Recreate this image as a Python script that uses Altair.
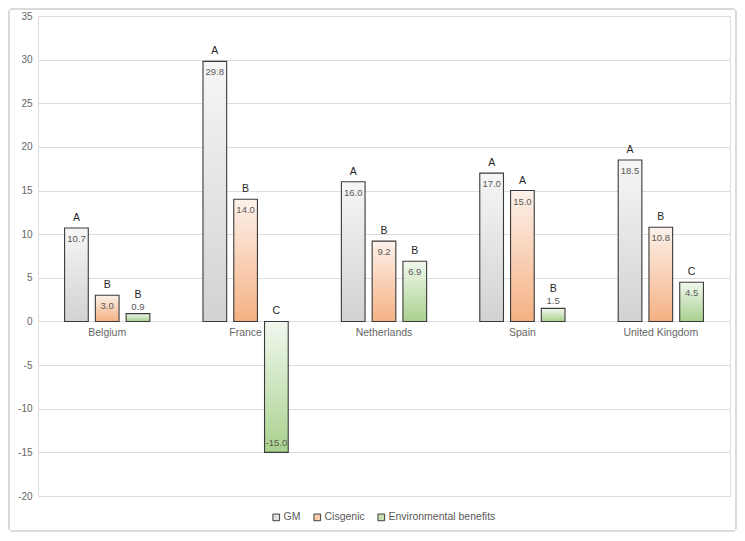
import altair as alt
import pandas as pd

countries = ["Belgium", "France", "Netherlands", "Spain", "United Kingdom"]
series = ["GM", "Cisgenic", "Environmental benefits"]
gm = [10.7, 29.8, 16.0, 17.0, 18.5]
cisgenic = [3.0, 14.0, 9.2, 15.0, 10.8]
env = [0.9, -15.0, 6.9, 1.5, 4.5]
letters_gm = ["A", "A", "A", "A", "A"]
letters_cis = ["B", "B", "B", "A", "B"]
letters_env = ["B", "C", "B", "B", "C"]

rows = []
for vals, lets, s in [(gm, letters_gm, series[0]), (cisgenic, letters_cis, series[1]), (env, letters_env, series[2])]:
    for c, v, l in zip(countries, vals, lets):
        rows.append({"country": c, "series": s, "value": v, "letter": l,
                     "label": f"{v:.1f}"})
df = pd.DataFrame(rows)

W, H = 692, 480

grads = {
    "GM": ("#f6f6f6", "#d2d2d2"),
    "Cisgenic": ("#fdf1ea", "#f4b183"),
    "Environmental benefits": ("#f1f8ee", "#a9d18e"),
}

x_enc = alt.X("country:N", sort=countries, axis=None,
              scale=alt.Scale(paddingInner=0.333, paddingOuter=0.1665))
xo_enc = alt.XOffset("series:N", sort=series,
                     scale=alt.Scale(paddingInner=0.23, paddingOuter=0.115))
y_scale = alt.Scale(domain=[-20, 35], nice=False, zero=False)

base = alt.Chart(df)

# hidden layer supplying the legend
legend_layer = base.mark_square(size=1, opacity=1, strokeWidth=0).encode(
    x=x_enc, xOffset=xo_enc,
    y=alt.Y("value:Q", scale=y_scale, title=None,
            axis=alt.Axis(values=list(range(-20, 36, 5)), grid=True, gridColor="#dedede",
                          domain=False, ticks=False, labelColor="#666666",
                          labelFontSize=10, labelPadding=6, labelFont="Liberation Sans",
                          labelExpr="datum.value < 0 ? '-' + abs(datum.value) : '' + datum.value")),
    y2=alt.datum(0),
    color=alt.Color("series:N", sort=series,
                    scale=alt.Scale(domain=series, range=["#e2e2e2", "#f8cbad", "#c5e0b4"]),
                    legend=alt.Legend(title=None, orient="none", direction="horizontal",
                                      legendX=W / 2 - 113, legendY=H + 16,
                                      symbolType="square", symbolSize=45,
                                      symbolStrokeColor="#404040", symbolStrokeWidth=1,
                                      labelColor="#595959", labelFontSize=10.5,
                                      labelFont="Liberation Sans", columnPadding=10,
                                      labelOffset=2)),
)

bar_layers = []
for s in series:
    top, bot = grads[s]
    g = alt.Gradient(gradient="linear",
                     stops=[alt.GradientStop(color=top, offset=0),
                            alt.GradientStop(color=bot, offset=1)],
                     x1=0, x2=0, y1=0, y2=1)
    bar_layers.append(
        base.transform_filter(alt.datum.series == s).mark_bar(
            fill=g, stroke="#3a3a3a", strokeWidth=1.1
        ).encode(x=x_enc, xOffset=xo_enc,
                 y=alt.Y("value:Q", scale=y_scale), y2=alt.datum(0))
    )

txt = dict(font="Liberation Sans")

val_pos = base.transform_filter("datum.value >= 2").mark_text(
    dy=11, fontSize=9.5, color="#595959", baseline="middle", **txt
).encode(x=x_enc, xOffset=xo_enc, y=alt.Y("value:Q", scale=y_scale), text="label:N")

val_neg = base.transform_filter("datum.value < 0").mark_text(
    dy=-9, fontSize=9.5, color="#595959", baseline="middle", **txt
).encode(x=x_enc, xOffset=xo_enc, y=alt.Y("value:Q", scale=y_scale), text="label:N")

val_small = base.transform_filter("datum.value >= 0 && datum.value < 2").mark_text(
    dy=-7, fontSize=9.5, color="#595959", baseline="middle", **txt
).encode(x=x_enc, xOffset=xo_enc, y=alt.Y("value:Q", scale=y_scale), text="label:N")

let_big = base.transform_filter("datum.value >= 2 || datum.value < 0").transform_calculate(
    ly="max(datum.value, 0)"
).mark_text(dy=-10, fontSize=10.5, color="#262626", baseline="middle", **txt).encode(
    x=x_enc, xOffset=xo_enc, y=alt.Y("ly:Q", scale=y_scale), text="letter:N")

let_small = base.transform_filter("datum.value >= 0 && datum.value < 2").mark_text(
    dy=-19, fontSize=10.5, color="#262626", baseline="middle", **txt).encode(
    x=x_enc, xOffset=xo_enc, y=alt.Y("value:Q", scale=y_scale), text="letter:N")

cat_df = pd.DataFrame({"country": countries, "zero": [0] * len(countries)})
cat_labels = alt.Chart(cat_df).mark_text(dy=12, fontSize=10.5, color="#666666",
                                          baseline="middle", **txt).encode(
    x=alt.X("country:N", sort=countries, axis=None,
            scale=alt.Scale(paddingInner=0.333, paddingOuter=0.1665)),
    y=alt.Y("zero:Q", scale=y_scale), text="country:N")

frame = alt.Chart(cat_df).mark_rect(fill=None, stroke="#d9d9d9", strokeWidth=1,
                                    cornerRadius=3).encode(
    x=alt.value(-29), x2=alt.value(W + 6), y=alt.value(-7), y2=alt.value(H + 35))

chart = alt.layer(frame, legend_layer, *bar_layers, val_pos, val_neg, val_small,
                  let_big, let_small, cat_labels).properties(
    width=W, height=H,
    autosize=alt.AutoSizeParams(type="none"),
    padding={"left": 30, "top": 8, "right": 7, "bottom": 36},
).configure_view(stroke=None).configure(background="white")

chart.save("out.html", embed_options={"renderer": "svg", "actions": False})
